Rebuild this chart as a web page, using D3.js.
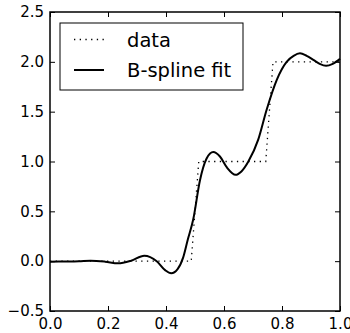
<!DOCTYPE html>
<html>
<head>
<meta charset="utf-8">
<script src="https://cdn.jsdelivr.net/npm/d3@7"></script>
<style>
  body { margin: 0; background: #fff; }
  svg { display: block; }
</style>
</head>
<body>
<div id="chart"></div>
<script>
// step data (dotted)
const dataX = [0, 0.487, 0.513, 0.744, 0.769, 1.0]
const dataY = [0, 0, 1, 1, 2, 2]

// B-spline fit
const fitX = [0.0, 0.05, 0.10, 0.14, 0.19, 0.235, 0.28, 0.325, 0.368, 0.397, 0.418, 0.44, 0.459, 0.475, 0.494, 0.517, 0.54, 0.563, 0.586, 0.61, 0.64, 0.66, 0.684, 0.718, 0.747, 0.782, 0.816, 0.84, 0.862, 0.885, 0.908, 0.93, 0.952, 0.975, 1.0]
const fitY = [-0.005, -0.003, 0.0, 0.005, -0.005, -0.022, 0.005, 0.055, 0.0, -0.09, -0.122, -0.08, 0.035, 0.215, 0.42, 0.81, 1.03, 1.095, 1.05, 0.94, 0.866, 0.9, 1.0, 1.22, 1.52, 1.82, 2.0, 2.06, 2.085, 2.06, 2.02, 1.98, 1.96, 1.98, 2.03]

const xTicks = [0, 0.2, 0.4, 0.6, 0.8, 1.0]
const yTicks = [-0.5, 0, 0.5, 1.0, 1.5, 2.0, 2.5]
const legendLabels = ['data', 'B-spline fit']

const width = 350
const height = 333
const plotLeft = 50, plotRight = 340, plotTop = 12, plotBottom = 311
const font = '"DejaVu Sans", sans-serif'

const svg = d3.select('#chart').append('svg')
  .attr('width', width)
  .attr('height', height)

const x = d3.scaleLinear().domain([0, 1]).range([plotLeft, plotRight])
const y = d3.scaleLinear().domain([-0.5, 2.5]).range([plotBottom, plotTop])

const fmt = (d) => d3.format('.1f')(d).replace('-', '\u2212')

// lines
const line = d3.line()
  .x((d) => x(d[0]))
  .y((d) => y(d[1]))

svg.append('path')
  .datum(d3.zip(dataX, dataY))
  .attr('d', line)
  .attr('fill', 'none')
  .attr('stroke', '#000')
  .attr('stroke-width', 1.3)
  .attr('stroke-dasharray', '1.3 4.4')

svg.append('path')
  .datum(d3.zip(fitX, fitY))
  .attr('d', line.curve(d3.curveMonotoneX))
  .attr('fill', 'none')
  .attr('stroke', '#000')
  .attr('stroke-width', 2)

// axes with inward ticks
function styleAxis(g) {
  g.select('.domain').remove()
  g.selectAll('line').attr('stroke', '#000').attr('stroke-width', 1)
  g.selectAll('text')
    .attr('fill', '#000')
    .style('font-family', font)
    .style('font-size', '15px')
}

svg.append('g')
  .attr('transform', `translate(0,${plotBottom})`)
  .call(d3.axisBottom(x).tickValues(xTicks).tickSize(-5).tickPadding(7).tickFormat(fmt))
  .call(styleAxis)

svg.append('g')
  .attr('transform', `translate(0,${plotTop})`)
  .call(d3.axisTop(x).tickValues(xTicks).tickSize(-5).tickFormat(''))
  .call(styleAxis)

svg.append('g')
  .attr('transform', `translate(${plotLeft},0)`)
  .call(d3.axisLeft(y).tickValues(yTicks).tickSize(-5).tickPadding(6).tickFormat(fmt))
  .call(styleAxis)

svg.append('g')
  .attr('transform', `translate(${plotRight},0)`)
  .call(d3.axisRight(y).tickValues(yTicks).tickSize(-5).tickFormat(''))
  .call(styleAxis)

// frame
svg.append('rect')
  .attr('x', plotLeft)
  .attr('y', plotTop)
  .attr('width', plotRight - plotLeft)
  .attr('height', plotBottom - plotTop)
  .attr('fill', 'none')
  .attr('stroke', '#000')
  .attr('stroke-width', 1.5)

// legend
const legend = svg.append('g').attr('transform', 'translate(60,23)')
legend.append('rect')
  .attr('width', 183)
  .attr('height', 67)
  .attr('fill', '#fff')
  .attr('stroke', '#000')
  .attr('stroke-width', 1)

legendLabels.forEach((label, i) => {
  const ly = 16.5 + i * 30.5
  const sample = legend.append('line')
    .attr('x1', 14).attr('x2', 44)
    .attr('y1', ly).attr('y2', ly)
    .attr('stroke', '#000')
  if (i === 0) {
    sample.attr('stroke-width', 1.3).attr('stroke-dasharray', '1.3 4.4')
  } else {
    sample.attr('stroke-width', 2)
  }
  legend.append('text')
    .attr('x', 67)
    .attr('y', ly)
    .attr('dy', '0.36em')
    .style('font-family', font)
    .style('font-size', '19.5px')
    .text(label)
})
</script>
</body>
</html>
